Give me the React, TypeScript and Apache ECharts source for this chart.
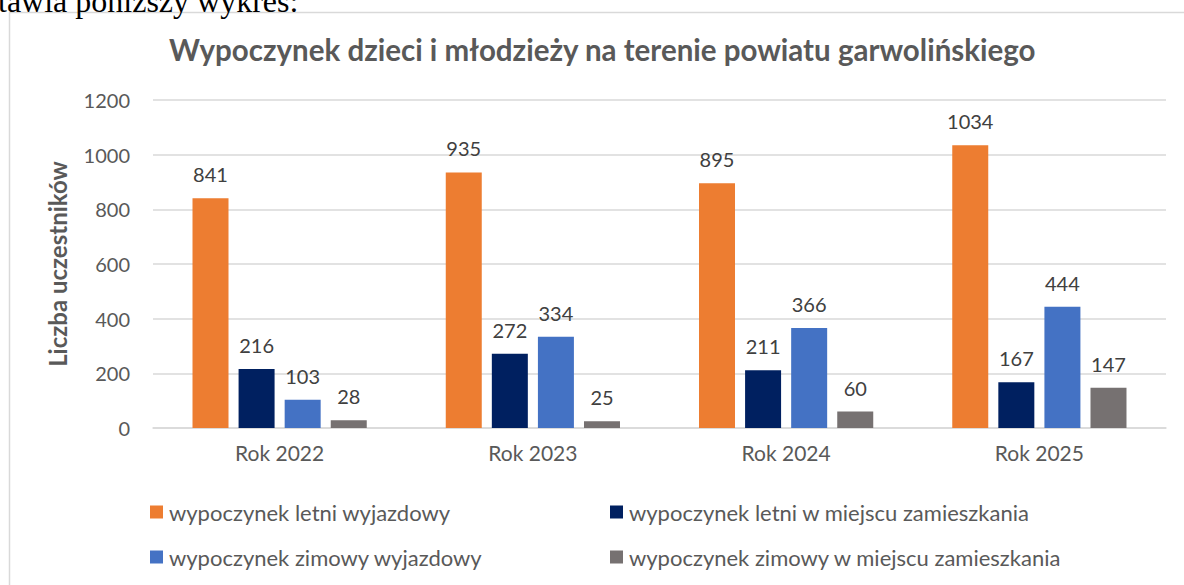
import React, { useEffect, useRef } from "react";
import * as echarts from "echarts";

const categories = ["Rok 2022", "Rok 2023", "Rok 2024", "Rok 2025"];
const seriesNames = [
  "wypoczynek letni wyjazdowy",
  "wypoczynek letni w miejscu zamieszkania",
  "wypoczynek zimowy wyjazdowy",
  "wypoczynek zimowy w miejscu zamieszkania",
];
const letniWyjazdowy = [841, 935, 895, 1034];
const letniMiejsce = [216, 272, 211, 167];
const zimowyWyjazdowy = [103, 334, 366, 444];
const zimowyMiejsce = [28, 25, 60, 147];
const colors = ["#ED7D31", "#002060", "#4472C4", "#767171"];

const title = "Wypoczynek dzieci i młodzieży na terenie powiatu garwolińskiego";
const yAxisName = "Liczba uczestników";
const headText = "tawia poniższy wykres:";

export default function App() {
  const ref = useRef<HTMLDivElement>(null);
  useEffect(() => {
    if (!ref.current) return;
    const chart = echarts.init(ref.current, null, { renderer: "svg" });
    const values = [letniWyjazdowy, letniMiejsce, zimowyWyjazdowy, zimowyMiejsce];
    const legendPos = [
      { left: 150, top: 501 },
      { left: 610, top: 501 },
      { left: 150, top: 546 },
      { left: 610, top: 546 },
    ];
    chart.setOption({
      animation: false,
      backgroundColor: "#ffffff",
      title: {
        text: title,
        left: 164,
        top: 29,
        textStyle: { fontFamily: "Lato", fontWeight: "bold", fontSize: 29.5, color: "#595959" },
      },
      graphic: [
        {
          type: "rect",
          shape: { x: 9.5, y: 12.5, width: 1300, height: 700 },
          style: { fill: "none", stroke: "#d9d9d9", lineWidth: 1.5 },
          silent: true,
        },
        {
          type: "text",
          left: -2,
          top: -15,
          style: {
            text: headText,
            font: "32px 'Liberation Serif'",
            fill: "#000000",
          },
        },
      ],
      legend: seriesNames.map((n, i) => ({
        data: [n],
        left: legendPos[i].left,
        top: legendPos[i].top,
        icon: "rect",
        itemWidth: 13,
        itemHeight: 13,
        itemGap: 6,
        padding: 0,
        textStyle: { fontFamily: "Lato", fontSize: 22, color: "#595959", padding: [0, 0, 0, 1] },
      })),
      grid: { left: 153, right: 18, top: 100, bottom: 157, containLabel: false },
      xAxis: {
        type: "category",
        data: categories,
        axisLine: { show: true, lineStyle: { color: "#d9d9d9", width: 1.5 } },
        axisTick: { show: false },
        axisLabel: { fontFamily: "Lato", fontSize: 21, color: "#595959", margin: 14 },
      },
      yAxis: {
        type: "value",
        min: 0,
        max: 1200,
        interval: 200,
        name: yAxisName,
        nameLocation: "middle",
        nameGap: 84,
        nameTextStyle: { fontFamily: "Lato", fontWeight: "bold", fontSize: 24, color: "#595959" },
        axisLine: { show: false },
        axisTick: { show: false },
        axisLabel: {
          fontFamily: "Lato",
          fontSize: 20,
          color: "#595959",
          margin: 23,
          formatter: (v: number) => String(v),
        },
        splitLine: { lineStyle: { color: "#d9d9d9", width: 1.5 } },
      },
      series: seriesNames.map((n, i) => ({
        name: n,
        type: "bar",
        data: values[i],
        barWidth: 36,
        barGap: "28%",
        itemStyle: { color: colors[i] },
        label: {
          show: true,
          position: "top",
          distance: 14,
          fontFamily: "Lato",
          fontSize: 20,
          color: "#404040",
        },
      })),
    });
    return () => chart.dispose();
  }, []);
  return (
    <div
      ref={ref}
      style={{ position: "fixed", left: 0, top: 0, width: 1184, height: 585 }}
    />
  );
}
